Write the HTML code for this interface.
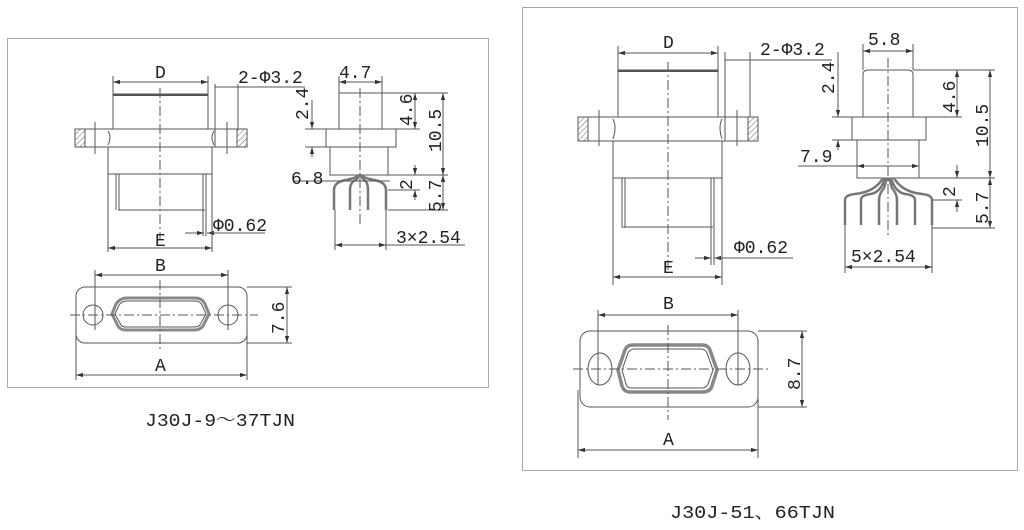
<!DOCTYPE html>
<html><head><meta charset="utf-8"><style>
html,body{margin:0;padding:0;background:#fff;}
svg{display:block}
text{font-family:"Liberation Mono","Noto Serif CJK SC",monospace;fill:#222;}
</style></head><body>
<svg width="1024" height="530" viewBox="0 0 1024 530" xmlns="http://www.w3.org/2000/svg">
<defs>
<marker id="a" viewBox="0 0 10 10" refX="10" refY="5" markerWidth="7" markerHeight="7" orient="auto-start-reverse"><path d="M0,2 L10,5 L0,8z" fill="#333"/></marker>
<pattern id="h" width="4" height="4" patternUnits="userSpaceOnUse" patternTransform="rotate(45)"><line x1="0" y1="0" x2="0" y2="4" stroke="#666" stroke-width="1"/></pattern>
</defs>
<g fill="none" stroke="#555" stroke-width="1">
<rect x="7.5" y="38.5" width="481" height="349" stroke="#aaa"/>
<rect x="522.5" y="7.5" width="495" height="463" stroke="#aaa"/>

<rect x="113" y="94" width="95" height="35"/>
<line x1="113" y1="95" x2="208" y2="95" stroke-width="2"/>
<rect x="75" y="129" width="172" height="18"/>
<rect x="75" y="129" width="10" height="18" fill="url(#h)"/>
<rect x="237" y="129" width="10" height="18" fill="url(#h)"/>
<line x1="95" y1="122" x2="95" y2="154"/><line x1="227" y1="122" x2="227" y2="154"/>
<path d="M108 131 q4 6 0 14 M214 131 q-4 6 0 14"/>
<rect x="108" y="147" width="104" height="27"/>
<line x1="108" y1="174" x2="108" y2="252"/><line x1="212" y1="174" x2="212" y2="252"/>
<path d="M116 174 v36 M119 174 v36 M203 174 v36 M206 174 v36 M203 210 v26 M206 210 v26"/>
<line x1="118" y1="210" x2="205" y2="210"/>
<line x1="160" y1="88" x2="160" y2="240" stroke-dasharray="10 3 2 3"/>
<line x1="113" y1="82" x2="208" y2="82" marker-start="url(#a)" marker-end="url(#a)"/>
<line x1="113" y1="76" x2="113" y2="94"/><line x1="208" y1="76" x2="208" y2="94"/>
<line x1="215" y1="84" x2="215" y2="147"/><line x1="238" y1="84" x2="238" y2="129"/>
<line x1="215" y1="87" x2="305" y2="87"/>
<line x1="185" y1="233" x2="204" y2="233" marker-end="url(#a)"/><line x1="225" y1="233" x2="207" y2="233" marker-end="url(#a)"/>
<line x1="207" y1="233" x2="265" y2="233"/>
<line x1="108" y1="248" x2="212" y2="248" marker-start="url(#a)" marker-end="url(#a)"/>

<rect x="339" y="93" width="43" height="36"/>
<rect x="326" y="129" width="70" height="18"/>
<rect x="330" y="147" width="58" height="28"/>
<line x1="360" y1="88" x2="360" y2="225" stroke-dasharray="10 3 2 3"/>
<line x1="339" y1="82" x2="382" y2="82" marker-start="url(#a)" marker-end="url(#a)"/>
<line x1="339" y1="76" x2="339" y2="93"/><line x1="382" y1="76" x2="382" y2="93"/>
<g stroke="#777" stroke-width="2.5">
<path d="M334 210 v-20 q0-8 12-10 q10-2 14-5"/>
<path d="M350 210 v-20 q0-8 6-10 l4-5"/>
<path d="M368 210 v-20 q0-8 -4-10 l-4-5"/>
<path d="M386 210 v-20 q0-8 -12-10 q-10-2 -14-5"/>
</g>
<line x1="382" y1="93" x2="448" y2="93"/><line x1="396" y1="129" x2="420" y2="129"/>
<line x1="388" y1="175" x2="448" y2="175"/><line x1="388" y1="190" x2="420" y2="190"/>
<line x1="388" y1="210" x2="448" y2="210"/>
<line x1="415" y1="93" x2="415" y2="129" marker-start="url(#a)" marker-end="url(#a)"/>
<line x1="443" y1="93" x2="443" y2="175" marker-start="url(#a)" marker-end="url(#a)"/>
<line x1="415" y1="165" x2="415" y2="175" marker-end="url(#a)"/><line x1="415" y1="200" x2="415" y2="190" marker-end="url(#a)"/>
<line x1="443" y1="175" x2="443" y2="210" marker-start="url(#a)" marker-end="url(#a)"/>
<line x1="312" y1="100" x2="312" y2="129" marker-end="url(#a)"/><line x1="312" y1="157" x2="312" y2="147" marker-end="url(#a)"/>
<line x1="305" y1="129" x2="326" y2="129"/><line x1="305" y1="147" x2="326" y2="147"/>
<line x1="293" y1="181" x2="390" y2="181"/>
<line x1="335" y1="210" x2="335" y2="250"/><line x1="386" y1="210" x2="386" y2="250"/>
<line x1="335" y1="245" x2="386" y2="245" marker-start="url(#a)" marker-end="url(#a)"/>
<line x1="386" y1="245" x2="465" y2="245"/>

<rect x="76" y="287" width="171" height="56" rx="9"/>
<circle cx="93" cy="315" r="10"/><circle cx="228" cy="315" r="10"/>
<path d="M127 298 L195 298 Q202 298 205 304 L209 314 L203 326 Q200 330 194 330 L126 330 Q120 330 118 326 L112 314 L116 304 Q120 298 127 298z" stroke-width="3" stroke="#888"/>
<path d="M127 301 L195 301 Q200 301 202 305 L206 314 L200 325 Q198 327 194 327 L126 327 Q122 327 121 325 L115 314 L119 305 Q122 301 127 301z"/>
<line x1="70" y1="315" x2="258" y2="315" stroke-dasharray="10 3 2 3"/>
<line x1="160" y1="280" x2="160" y2="352" stroke-dasharray="10 3 2 3"/>
<line x1="95" y1="270" x2="95" y2="330"/><line x1="228" y1="270" x2="228" y2="330"/>
<line x1="95" y1="275" x2="228" y2="275" marker-start="url(#a)" marker-end="url(#a)"/>
<line x1="76" y1="330" x2="76" y2="380"/><line x1="247" y1="330" x2="247" y2="380"/>
<line x1="76" y1="375" x2="247" y2="375" marker-start="url(#a)" marker-end="url(#a)"/>
<line x1="247" y1="287" x2="292" y2="287"/><line x1="247" y1="343" x2="292" y2="343"/>
<line x1="287" y1="287" x2="287" y2="343" marker-start="url(#a)" marker-end="url(#a)"/>

<rect x="618" y="70" width="100" height="47"/>
<line x1="618" y1="71" x2="718" y2="71" stroke-width="2"/>
<rect x="578" y="117" width="180" height="24"/>
<rect x="578" y="117" width="10" height="24" fill="url(#h)"/>
<rect x="748" y="117" width="10" height="24" fill="url(#h)"/>
<line x1="599" y1="110" x2="599" y2="146"/><line x1="737" y1="110" x2="737" y2="146"/>
<path d="M613 119 q4 8 0 20 M722 119 q-4 8 0 20"/>
<rect x="613" y="141" width="109" height="37"/>
<line x1="613" y1="178" x2="613" y2="285"/><line x1="722" y1="178" x2="722" y2="285"/>
<path d="M622 178 v50 M625 178 v50 M711 178 v50 M714 178 v50 M711 228 v37 M714 228 v37"/>
<line x1="623" y1="227" x2="713" y2="227"/>
<line x1="668" y1="62" x2="668" y2="270" stroke-dasharray="10 3 2 3"/>
<line x1="618" y1="53" x2="718" y2="53" marker-start="url(#a)" marker-end="url(#a)"/>
<line x1="618" y1="46" x2="618" y2="70"/><line x1="718" y1="46" x2="718" y2="70"/>
<line x1="725" y1="52" x2="725" y2="141"/><line x1="750" y1="52" x2="750" y2="117"/>
<line x1="725" y1="60" x2="832" y2="60"/>
<line x1="695" y1="258" x2="711" y2="258" marker-end="url(#a)"/><line x1="730" y1="258" x2="714" y2="258" marker-end="url(#a)"/>
<line x1="714" y1="258" x2="793" y2="258"/>
<line x1="613" y1="277" x2="722" y2="277" marker-start="url(#a)" marker-end="url(#a)"/>

<path d="M863 117 V74 q0-4 6-4 H907 q6 0 6 4 V117"/>
<rect x="852" y="117" width="74" height="23"/>
<rect x="857" y="140" width="62" height="38"/>
<line x1="888" y1="58" x2="888" y2="235" stroke-dasharray="10 3 2 3"/>
<line x1="863" y1="51" x2="913" y2="51" marker-start="url(#a)" marker-end="url(#a)"/>
<line x1="863" y1="44" x2="863" y2="70"/><line x1="913" y1="44" x2="913" y2="70"/>
<g stroke="#777" stroke-width="2.5">
<path d="M845 225 v-25 q0-5 10-6 q20-2 28-16"/>
<path d="M861 225 v-25 q0-5 10-6 q10-2 14-16"/>
<path d="M879 225 v-25 q0-6 5-12 l3-10"/>
<path d="M897 225 v-25 q0-6 -5-12 l-3-10"/>
<path d="M915 225 v-25 q0-5 -10-6 q-10-2 -14-16"/>
<path d="M932 225 v-25 q0-5 -10-6 q-20-2 -28-16"/>
</g>
<line x1="913" y1="70" x2="995" y2="70"/><line x1="919" y1="117" x2="962" y2="117"/>
<line x1="919" y1="178" x2="995" y2="178"/><line x1="932" y1="200" x2="962" y2="200"/>
<line x1="932" y1="228" x2="995" y2="228"/>
<line x1="957" y1="70" x2="957" y2="117" marker-start="url(#a)" marker-end="url(#a)"/>
<line x1="990" y1="70" x2="990" y2="178" marker-start="url(#a)" marker-end="url(#a)"/>
<line x1="957" y1="165" x2="957" y2="178" marker-end="url(#a)"/><line x1="957" y1="212" x2="957" y2="200" marker-end="url(#a)"/>
<line x1="990" y1="178" x2="990" y2="228" marker-start="url(#a)" marker-end="url(#a)"/>
<line x1="838" y1="52" x2="838" y2="117" marker-end="url(#a)"/><line x1="838" y1="150" x2="838" y2="140" marker-end="url(#a)"/>
<line x1="832" y1="117" x2="852" y2="117"/><line x1="832" y1="140" x2="852" y2="140"/>
<line x1="798" y1="166" x2="857" y2="166"/>
<line x1="857" y1="166" x2="919" y2="166" marker-start="url(#a)" marker-end="url(#a)"/>
<line x1="845" y1="225" x2="845" y2="273"/><line x1="932" y1="225" x2="932" y2="273"/>
<line x1="845" y1="267" x2="932" y2="267" marker-start="url(#a)" marker-end="url(#a)"/>

<rect x="580" y="331" width="178" height="76" rx="10"/>
<ellipse cx="600" cy="369" rx="12" ry="16"/><ellipse cx="738" cy="369" rx="12" ry="16"/>
<path d="M633 345 L702 345 Q708 345 710 350 L717 370 L712 386 Q710 392 703 392 L630 392 Q624 392 622 386 L618 370 L625 350 Q627 345 633 345z" stroke-width="3.5" stroke="#888"/>
<path d="M634 349 L701 349 Q705 349 707 353 L713 370 L708 384 Q706 388 702 388 L631 388 Q627 388 626 384 L622 370 L628 353 Q630 349 634 349z"/>
<line x1="573" y1="369" x2="770" y2="369" stroke-dasharray="10 3 2 3"/>
<line x1="668" y1="325" x2="668" y2="420" stroke-dasharray="10 3 2 3"/>
<line x1="598" y1="310" x2="598" y2="385"/><line x1="738" y1="310" x2="738" y2="385"/>
<line x1="598" y1="315" x2="738" y2="315" marker-start="url(#a)" marker-end="url(#a)"/>
<line x1="578" y1="390" x2="578" y2="458"/><line x1="758" y1="390" x2="758" y2="458"/>
<line x1="578" y1="450" x2="758" y2="450" marker-start="url(#a)" marker-end="url(#a)"/>
<line x1="758" y1="331" x2="807" y2="331"/><line x1="758" y1="407" x2="807" y2="407"/>
<line x1="802" y1="331" x2="802" y2="407" marker-start="url(#a)" marker-end="url(#a)"/>
</g>

<g font-size="18">
<text x="155" y="78">D</text>
<text x="238" y="83">2-Φ3.2</text>
<text x="339" y="78">4.7</text>
<text x="291" y="184">6.8</text>
<text x="213" y="231">Φ0.62</text>
<text x="155" y="246">E</text>
<text x="396" y="243">3×2.54</text>
<text x="155" y="271">B</text>
<text x="155" y="371">A</text>
<text transform="translate(308,120) rotate(-90)">2.4</text>
<text transform="translate(412,126) rotate(-90)">4.6</text>
<text transform="translate(441,152) rotate(-90)">10.5</text>
<text transform="translate(412,190) rotate(-90)">2</text>
<text transform="translate(441,212) rotate(-90)">5.7</text>
<text transform="translate(284,334) rotate(-90)">7.6</text>

<text x="663" y="48">D</text>
<text x="760" y="55">2-Φ3.2</text>
<text x="868" y="45">5.8</text>
<text x="800" y="162">7.9</text>
<text x="734" y="253">Φ0.62</text>
<text x="663" y="273">E</text>
<text x="851" y="262">5×2.54</text>
<text x="663" y="309">B</text>
<text x="663" y="445">A</text>
<text transform="translate(834,94) rotate(-90)">2.4</text>
<text transform="translate(955,113) rotate(-90)">4.6</text>
<text transform="translate(988,147) rotate(-90)">10.5</text>
<text transform="translate(955,197) rotate(-90)">2</text>
<text transform="translate(988,224) rotate(-90)">5.7</text>
<text transform="translate(800,390) rotate(-90)">8.7</text>
</g>
<g font-size="18">
<text x="145" y="426" textLength="150" lengthAdjust="spacingAndGlyphs">J30J-9～37TJN</text>
<text x="670" y="518" textLength="165" lengthAdjust="spacingAndGlyphs">J30J-51、66TJN</text>
</g>
</svg>
</body></html>
